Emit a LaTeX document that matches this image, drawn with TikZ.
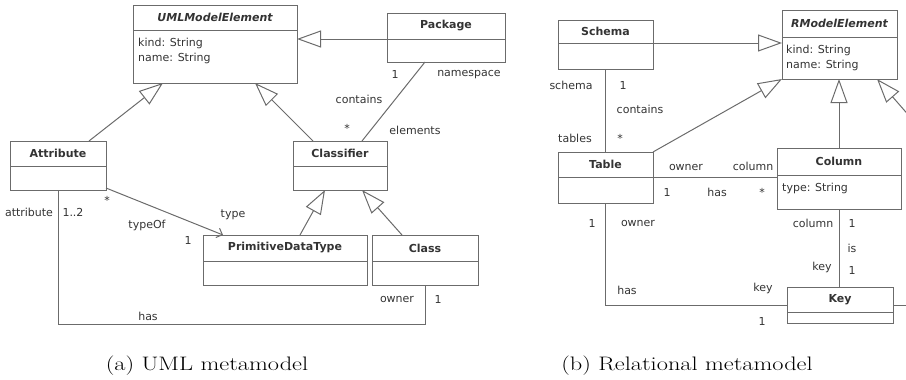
\documentclass[tikz,border=0pt]{standalone}
\usepackage{fontspec}
\usepackage{graphicx}
\newfontfamily\umlfont{DejaVu Sans}
\usetikzlibrary{positioning,arrows.meta}
\definecolor{umlline}{gray}{0.42}
\definecolor{umltext}{gray}{0.2}
\tikzset{
	ctitle/.style 2 args={draw=umlline, line width=1pt, minimum width=#1pt, minimum height=#2pt,
		inner sep=0pt, outer sep=0pt, anchor=north west, text=umltext,
		font=\umlfont\fontsize{11}{13}\selectfont\bfseries},
	cbody/.style 2 args={draw=umlline, line width=1pt, minimum width=#1pt, minimum height=#2pt,
		inner sep=0pt, outer sep=0pt},
	attr/.style={inner sep=0pt, align=left, text=umltext, font=\umlfont\fontsize{11}{15}\selectfont},
	lbl/.style={inner sep=0pt, text=umltext, font=\umlfont\fontsize{11}{13}\selectfont},
	assoc/.style={draw=umlline, line width=1pt},
	gen/.style={assoc, -{Triangle[open, length=24pt, width=17pt, line width=1pt]}},
	nav/.style={assoc, -{Straight Barb[length=5pt, width=10pt, line width=1pt]}},
	caption/.style={inner sep=0pt, font=\fontsize{19.5}{23}\selectfont}
}
\begin{document}
\begin{tikzpicture}[x=1pt, y=-1pt]
	\useasboundingbox (0,0) rectangle (906,380);
	% (a) UML metamodel
	\node[ctitle={164}{25}, font=\umlfont\fontsize{11}{13}\selectfont\bfseries\itshape] (umlT) at (133,5) {UMLModelElement};
	\node[cbody={164}{53}, below=0pt of umlT] (umlB) {};
	\node[attr, below right=8pt and 5pt of umlB.north west] (umlA) {kind: String\\name: String};
	\node[ctitle={118}{26}] (pkgT) at (387,13) {Package};
	\node[cbody={118}{23}, below=0pt of pkgT] (pkgB) {};
	\node[ctitle={96}{25}] (attT) at (10,141) {Attribute};
	\node[cbody={96}{24}, below=0pt of attT] (attB) {};
	\node[ctitle={94}{25}] (clfT) at (293,141) {Classifier};
	\node[cbody={94}{24}, below=0pt of clfT] (clfB) {};
	\node[ctitle={164}{26}] (pdtT) at (203,235) {PrimitiveDataType};
	\node[cbody={164}{24}, below=0pt of pdtT] (pdtB) {};
	\node[ctitle={106}{26}] (clsT) at (372,235) {Class};
	\node[cbody={106}{24}, below=0pt of clsT] (clsB) {};

	\draw[gen] (pkgB.north west) -- (pkgB.north west -| umlB.east);
	\draw[gen] ([xshift=31pt]attT.north) -- ([xshift=-52pt]umlB.south);
	\draw[gen] ([xshift=-27pt]clfT.north) -- ([xshift=40pt]umlB.south);
	\draw[gen] ([xshift=15pt]pdtT.north) -- ([xshift=-15pt]clfB.south);
	\draw[gen] ([xshift=-23pt]clsT.north) -- ([xshift=22pt]clfB.south);
	\draw[assoc] ([xshift=-21pt]pkgB.south) -- ([xshift=22pt]clfT.north)
		node[lbl] at (395,74) {1}
		node[lbl] at (469,75) {namespace}
		node[lbl] at (359,99) {contains}
		node[lbl] at (347,128) {*}
		node[lbl] at (415,130) {elements};
	\draw[nav] ([yshift=2pt]attB.south east) -- ([xshift=20pt]pdtT.north west)
		node[lbl] at (107,200) {*}
		node[lbl] at (147,225) {typeOf}
		node[lbl] at (233,215) {type}
		node[lbl] at (188,240) {1};
	\draw[assoc] (attB.south) -- ++(0,134) -| (clsB.south)
		node[lbl] at (29,212) {attribute}
		node[lbl] at (73,212) {1..2}
		node[lbl] at (148,316) {has}
		node[lbl] at (397,299) {owner}
		node[lbl] at (438,299) {1};
	\node[caption] (capa) at (207,366) {\scalebox{1.25}[1]{(a) UML metamodel}};

	% (b) Relational metamodel
	\node[ctitle={95}{23}] (schT) at (558,20) {Schema};
	\node[cbody={95}{26}, below=0pt of schT] (schB) {};
	\node[ctitle={115}{27}, font=\umlfont\fontsize{11}{13}\selectfont\bfseries\itshape] (rmT) at (782,10) {RModelElement};
	\node[cbody={115}{42}, below=0pt of rmT] (rmB) {};
	\node[attr, below right=8pt and 4pt of rmB.north west] (rmA) {kind: String\\name: String};
	\node[ctitle={95}{25}] (tabT) at (558,152) {Table};
	\node[cbody={95}{26}, below=0pt of tabT] (tabB) {};
	\node[ctitle={124}{27}] (colT) at (777,148) {Column};
	\node[cbody={124}{34}, below=0pt of colT] (colB) {};
	\node[attr, below right=8pt and 5pt of colB.north west] (colA) {type: String};
	\node[ctitle={106}{25}] (keyT) at (787,287) {Key};
	\node[cbody={106}{11}, below=0pt of keyT] (keyB) {};
	\coordinate (offgen) at (925,134);

	\draw[gen] (schB.north east) -- (schB.north east -| rmB.west);
	\draw[gen] (tabT.north east) -- (rmB.south west);
	\draw[gen] (colT.north) -- (colT.north |- rmB.south);
	\draw[gen] (offgen) -- ([xshift=-20pt]rmB.south east);
	\draw[assoc] (schB.south) -- (tabT.north)
		node[lbl] at (571,85) {schema}
		node[lbl] at (623,85) {1}
		node[lbl] at (640,109) {contains}
		node[lbl] at (575,138) {tables}
		node[lbl] at (620,138) {*};
	\draw[assoc] (tabB.north east) -- (tabB.north east -| colB.west)
		node[lbl] at (686,167) {owner}
		node[lbl] at (753,166) {column}
		node[lbl] at (667,192) {1}
		node[lbl] at (717,192) {has}
		node[lbl] at (762,192) {*};
	\draw[assoc] (colB.south) -- (colB.south |- keyT.north)
		node[lbl] at (813,223) {column}
		node[lbl] at (852,223) {1}
		node[lbl] at (852,248) {is}
		node[lbl] at (822,267) {key}
		node[lbl] at (852,270) {1};
	\draw[assoc] (tabB.south) |- ([yshift=-5.5pt]keyT.west)
		node[lbl] at (592,223) {1}
		node[lbl] at (638,223) {owner}
		node[lbl] at (627,290) {has}
		node[lbl] at (763,288) {key}
		node[lbl] at (762,321) {1};
	\draw[assoc] ([yshift=-5.5pt]keyT.east) -- ++(30,0);
	\node[caption] (capb) at (687,366) {\scalebox{1.25}[1]{(b) Relational metamodel}};
\end{tikzpicture}
\end{document}
